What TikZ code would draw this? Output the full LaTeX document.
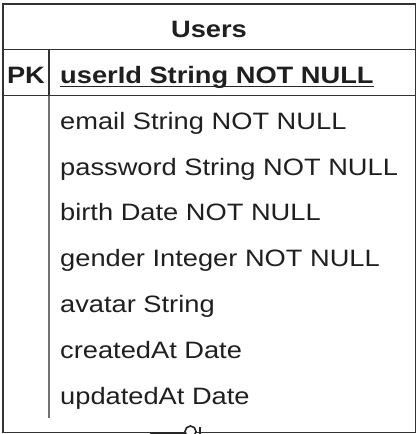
\documentclass[tikz,border=0pt]{standalone}
\usepackage{fontspec}
\setmainfont{Liberation Sans}
\usetikzlibrary{calc}
\begin{document}
\begin{tikzpicture}[x=1pt,y=-1pt,
  frame/.style={draw=black!80,line width=1.6pt},
  divider/.style={draw=black!55,line width=1.5pt},
  field/.style={anchor=base west,inner sep=0pt,text=black!88,
    font=\fontsize{23.7}{28}\selectfont},
  boldfield/.style={field,font=\fontsize{23.7}{28}\selectfont\bfseries},
  marker/.style={draw=black!85,line width=1.6pt}]
\useasboundingbox (0,0) rectangle (419,434);
% frame
\draw[frame] (3,4) rectangle (415.3,432.5);
\draw[frame] (3,49.5) -- (415.3,49.5);
\draw[frame] (3,95.5) -- (415.3,95.5);
\draw[frame] (49,49.5) -- (49,95.5);
\draw[divider] (49,95.5) -- (49,418);
% title
\node[boldfield,anchor=base] (title) at (209,37.7) {\scalebox{1.15}[1]{Users}};
% PK row
\node[boldfield,anchor=base] (pk) at (26,83.5) {\scalebox{1.15}[1]{PK}};
\node[boldfield] (uid) at (60,83.5) {\scalebox{1.15}[1]{userId String NOT NULL}};
\draw[line width=1.8pt,black!85] ($(uid.base west)+(0,3)$) -- ($(uid.base east)+(0,3)$);
% fields
\node[field] (email) at (60,129.3) {\scalebox{1.15}[1]{email String NOT NULL}};
\node[field] (password) at (60,175.1) {\scalebox{1.15}[1]{password String NOT NULL}};
\node[field] (birth) at (60,220.9) {\scalebox{1.15}[1]{birth Date NOT NULL}};
\node[field] (gender) at (60,266.7) {\scalebox{1.15}[1]{gender Integer NOT NULL}};
\node[field] (avatar) at (60,312.5) {\scalebox{1.15}[1]{avatar String}};
\node[field] (created) at (60,358.3) {\scalebox{1.15}[1]{createdAt Date}};
\node[field] (updated) at (60,404.1) {\scalebox{1.15}[1]{updatedAt Date}};
% connector marker fragment (cut by the picture edge)
\coordinate (ma) at (150,433);
\coordinate (mb) at (185,433);
\coordinate (mc) at (190.5,431.5);
\coordinate (md) at (200,427);
\coordinate (me) at (200,436);
\draw[marker] (ma) -- (mb);
\draw[marker,fill=white] (mc) circle[radius=5.5];
\draw[marker] (md) -- (me);
\end{tikzpicture}
\end{document}
